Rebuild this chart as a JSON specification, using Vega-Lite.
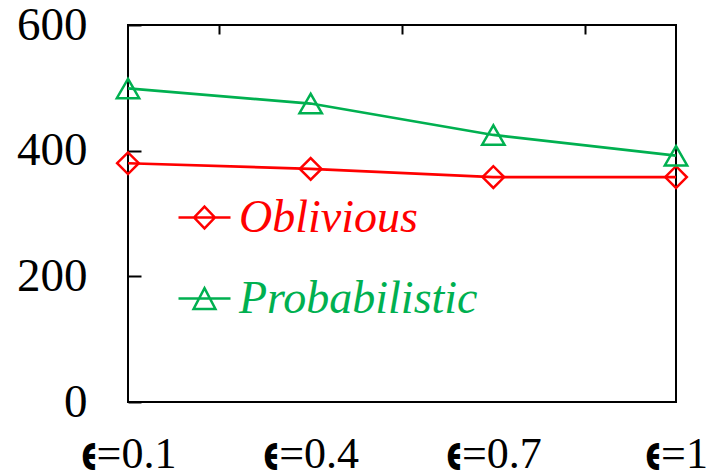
{
  "$schema": "https://vega.github.io/schema/vega-lite/v6.json",
  "width": 548,
  "height": 377,
  "autosize": "none",
  "padding": {"left": 128, "top": 25, "right": 31, "bottom": 70},
  "background": "white",
  "config": {
    "view": {"stroke": "black", "strokeWidth": 2},
    "font": "Liberation Serif",
    "axis": {"grid": false, "domainColor": "black", "domainWidth": 2, "tickColor": "black", "tickWidth": 2, "labelColor": "black", "labelFont": "Liberation Serif"},
    "legend": {"labelFont": "Liberation Serif"}
  },
  "data": {
    "values": [
      {"eps": 0.1, "series": "Oblivious", "value": 380},
      {"eps": 0.4, "series": "Oblivious", "value": 371},
      {"eps": 0.7, "series": "Oblivious", "value": 358},
      {"eps": 1.0, "series": "Oblivious", "value": 358},
      {"eps": 0.1, "series": "Probabilistic", "value": 499},
      {"eps": 0.4, "series": "Probabilistic", "value": 475},
      {"eps": 0.7, "series": "Probabilistic", "value": 425},
      {"eps": 1.0, "series": "Probabilistic", "value": 392}
    ]
  },
  "layer": [
    {
      "mark": {"type": "line", "strokeWidth": 2.7},
      "encoding": {
        "x": {
          "field": "eps", "type": "quantitative",
          "scale": {"domain": [0.1, 1], "nice": false, "zero": false},
          "axis": {
            "title": null, "values": [0.1, 0.4, 0.7, 1], "ticks": false, "domain": false,
            "labelExpr": "'𝛜=' + datum.value", "labelFontSize": 44, "labelBaseline": "alphabetic",
            "labelPadding": 65, "labelFlush": false, "labelOverlap": false
          }
        },
        "y": {
          "field": "value", "type": "quantitative",
          "scale": {"domain": [0, 600], "nice": false},
          "axis": {
            "title": null, "values": [0, 200, 400, 600], "tickSize": -13, "labelPadding": 54,
            "labelFontSize": 47, "domain": false
          }
        },
        "color": {
          "field": "series", "type": "nominal",
          "scale": {"domain": ["Oblivious", "Probabilistic"], "range": ["#FF0000", "#00B050"]},
          "legend": null
        }
      }
    },
    {
      "transform": [{"filter": "datum.series === 'Oblivious'"}],
      "mark": {"type": "point", "shape": "diamond", "filled": false, "size": 470, "strokeWidth": 2.5, "opacity": 1},
      "encoding": {
        "x": {
          "field": "eps", "type": "quantitative",
          "axis": {
            "title": null, "values": [0.25, 0.55, 0.85], "labels": false, "domain": false, "tickSize": -9
          }
        },
        "y": {"field": "value", "type": "quantitative"},
        "color": {
          "field": "series", "type": "nominal",
          "legend": {
            "title": null, "orient": "none", "legendX": 49, "legendY": 165, "padding": 0,
            "values": ["Oblivious"],
            "symbolType": "M-1,0H1M0,-0.42L0.4,0L0,0.42L-0.4,0Z",
            "symbolSize": 2704, "symbolStrokeWidth": 2.5, "symbolFillColor": "transparent", "symbolStrokeColor": "#FF0000",
            "labelFontSize": 46, "labelFontStyle": "italic", "labelOffset": 7, "labelColor": "#FF0000", "labelLimit": 0
          }
        }
      }
    },
    {
      "transform": [{"filter": "datum.series === 'Probabilistic'"}],
      "mark": {"type": "point", "shape": "triangle-up", "filled": false, "size": 500, "strokeWidth": 2.5, "opacity": 1},
      "encoding": {
        "x": {"field": "eps", "type": "quantitative", "axis": null},
        "y": {"field": "value", "type": "quantitative"},
        "color": {
          "field": "series", "type": "nominal",
          "legend": {
            "title": null, "orient": "none", "legendX": 49, "legendY": 246, "padding": 0,
            "values": ["Probabilistic"],
            "symbolType": "M-1,0H1M0,-0.4L0.42,0.4L-0.42,0.4Z",
            "symbolSize": 2704, "symbolStrokeWidth": 2.5, "symbolFillColor": "transparent", "symbolStrokeColor": "#00B050",
            "labelFontSize": 46, "labelFontStyle": "italic", "labelOffset": 7, "labelColor": "#00B050", "labelLimit": 0
          }
        }
      }
    }
  ],
  "resolve": {"axis": {"x": "independent"}, "legend": {"color": "independent"}}
}
